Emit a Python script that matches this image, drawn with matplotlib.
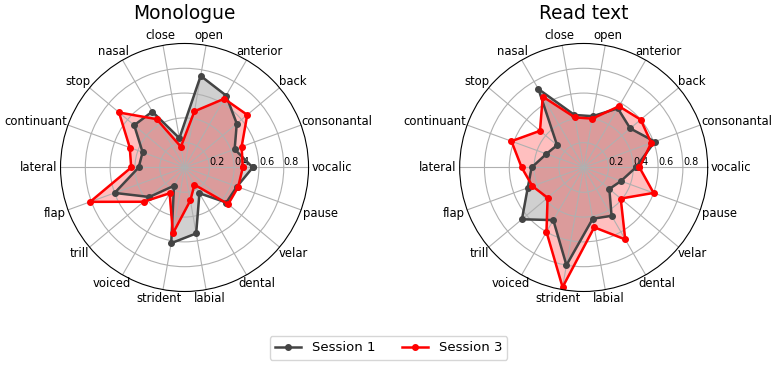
import numpy as np
import matplotlib.pyplot as plt

# Dados
categorias = ['vocalic', 'consonantal', 'back', 'anterior', 'open', 'close',
              'nasal', 'stop', 'continuant', 'lateral', 'flap', 'trill',
              'voiced', 'strident', 'labial', 'dental', 'velar', 'pause']

mono_s1 = [0.55, 0.43, 0.55, 0.67, 0.75, 0.24, 0.52, 0.53, 0.36, 0.37,
           0.60, 0.37, 0.17, 0.62, 0.54, 0.24, 0.44, 0.45]
mono_s3 = [0.47, 0.49, 0.66, 0.64, 0.46, 0.17, 0.45, 0.69, 0.47, 0.43,
           0.81, 0.43, 0.24, 0.54, 0.27, 0.16, 0.46, 0.46]

read_s1 = [0.42, 0.61, 0.49, 0.55, 0.42, 0.43, 0.73, 0.28, 0.32, 0.42,
           0.48, 0.65, 0.49, 0.80, 0.42, 0.45, 0.27, 0.32]
read_s3 = [0.45, 0.58, 0.60, 0.57, 0.40, 0.41, 0.66, 0.46, 0.62, 0.50,
           0.44, 0.38, 0.60, 0.98, 0.49, 0.67, 0.39, 0.60]

titulos = ['Monologue', 'Read text']
sessoes = ['Session 1', 'Session 3']
cores = ['#444444', 'red']

angulos = np.linspace(0, 2 * np.pi, len(categorias), endpoint=False)
fechado = np.concatenate([angulos, angulos[:1]])


def desenha(ax, titulo, series):
    for valores, cor, nome in zip(series, cores, sessoes):
        v = np.concatenate([valores, valores[:1]])
        ax.plot(fechado, v, color=cor, linewidth=1.8, marker='o',
                markersize=4, label=nome)
        ax.fill(fechado, v, color=cor, alpha=0.25)
    ax.set_ylim(0, 1)
    ax.set_xticks(angulos)
    ax.set_xticklabels([])
    ax.set_yticks([0.2, 0.4, 0.6, 0.8])
    ax.set_yticklabels(['0.2', '0.4', '0.6', '0.8'], fontsize=7)
    ax.set_rlabel_position(0)
    ax.grid(True, color='#b0b0b0', linewidth=0.8)
    ax.set_title(titulo, fontsize=13.4, y=1.10, pad=0)
    # rotulos das categorias, encostados no circulo
    textos = []
    for ang, nome in zip(angulos, categorias):
        t = ax.annotate(nome, xy=(ang, 1.0), xytext=(0, 0),
                        textcoords='offset pixels', ha='center', va='center',
                        fontsize=8.4, annotation_clip=False)
        textos.append((t, ang))
    return textos


fig = plt.figure(figsize=(7.77, 3.65), dpi=100)
ax1 = fig.add_axes([0.0779, 0.2014, 0.3192, 0.6795], projection='polar')
ax2 = fig.add_axes([0.5916, 0.2014, 0.3192, 0.6795], projection='polar')

rotulos = desenha(ax1, titulos[0], [mono_s1, mono_s3])
rotulos += desenha(ax2, titulos[1], [read_s1, read_s3])

fig.canvas.draw()
renderer = fig.canvas.get_renderer()
pad = 3
for t, ang in rotulos:
    bb = t.get_window_extent(renderer)
    dx = (pad + bb.width / 2) * np.cos(ang)
    dy = (pad + bb.height / 2) * np.sin(ang)
    t.xyann = (dx, dy)

handles, labels = ax1.get_legend_handles_labels()
fig.legend(handles, labels, loc='center', bbox_to_anchor=(0.5, 0.047),
           ncol=2, fontsize=9.5)

fig.savefig('out.png', dpi=100)
